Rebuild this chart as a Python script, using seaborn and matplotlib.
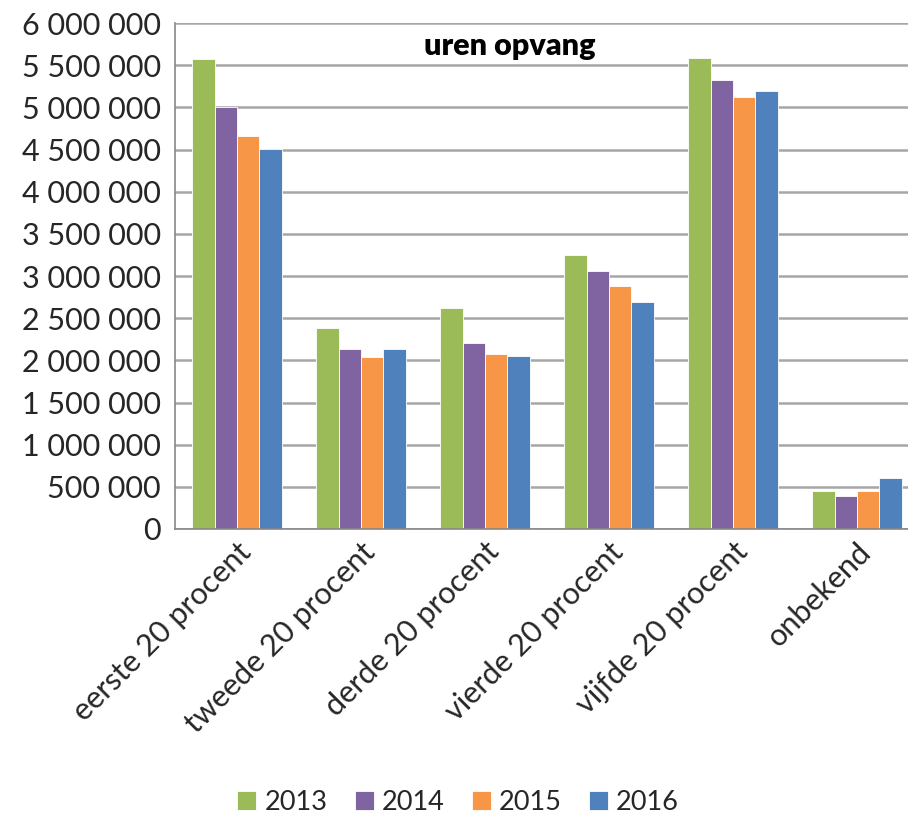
import matplotlib.pyplot as plt
import matplotlib.ticker as mticker
import pandas as pd
import seaborn as sns

# data
categories = ['eerste 20 procent', 'tweede 20 procent', 'derde 20 procent',
              'vierde 20 procent', 'vijfde 20 procent', 'onbekend']
years = ['2013', '2014', '2015', '2016']
uren_2013 = [5570000, 2380000, 2620000, 3250000, 5580000, 450000]
uren_2014 = [5000000, 2130000, 2210000, 3060000, 5330000, 390000]
uren_2015 = [4660000, 2040000, 2070000, 2880000, 5120000, 450000]
uren_2016 = [4510000, 2140000, 2050000, 2690000, 5190000, 610000]
colors = ['#9BBB59', '#8064A2', '#F79646', '#4F81BD']

rows = []
for year, values in zip(years, [uren_2013, uren_2014, uren_2015, uren_2016]):
    for cat, v in zip(categories, values):
        rows.append({'categorie': cat, 'jaar': year, 'uren': v})
df = pd.DataFrame(rows)

sns.set_style('white')
plt.rcParams['font.family'] = ['Lato', 'DejaVu Sans']

fig = plt.figure(figsize=(9.08, 8.14), dpi=100)
ax = fig.add_axes([175 / 908, 285 / 814, 744 / 908, 506 / 814])

sns.barplot(data=df, x='categorie', y='uren', hue='jaar', order=categories,
            hue_order=years, palette=colors, saturation=1, width=0.72, gap=0,
            edgecolor='white', linewidth=0.6, ax=ax)

ax.set_ylim(0, 6000000)
ax.set_xlim(-0.5, 5.5)
ax.yaxis.set_major_locator(mticker.MultipleLocator(500000))
ax.yaxis.set_major_formatter(
    mticker.FuncFormatter(lambda v, p: f'{int(v):,}'.replace(',', ' ')))
ax.grid(axis='y', color='#A6A6A6', linewidth=1.8)
ax.set_axisbelow(True)

# ticks between the groups
ax.set_xticks([i - 0.5 for i in range(len(categories) + 1)], minor=True)
ax.tick_params(axis='x', which='major', length=0, pad=6)
ax.tick_params(axis='x', which='minor', length=8, width=1.2, color='#878787')
ax.tick_params(axis='y', length=6, width=1.2, color='#878787', pad=4)
ax.set_xticks(range(len(categories)))
ax.set_xticklabels(categories, rotation=45, ha='right', rotation_mode='anchor',
                   fontsize=22, color='#262626')
for lab in ax.get_yticklabels():
    lab.set_fontsize(22)
    lab.set_color('#262626')

for side in ['top', 'right']:
    ax.spines[side].set_visible(False)
for side in ['left', 'bottom']:
    ax.spines[side].set_color('#878787')
    ax.spines[side].set_linewidth(1.2)

ax.set_xlabel('')
ax.set_ylabel('')
ax.text(0.45, 0.955, 'uren opvang', transform=ax.transAxes, ha='center',
        va='center', fontsize=22, fontweight='heavy', color='black')

ax.legend(loc='center', bbox_to_anchor=(458 / 908, 12 / 814),
          bbox_transform=fig.transFigure, ncol=4, frameon=False,
          fontsize=19.5, handlelength=0.7, handleheight=0.7,
          handletextpad=0.3, columnspacing=1.0)

fig.savefig('out.png', dpi=100)
